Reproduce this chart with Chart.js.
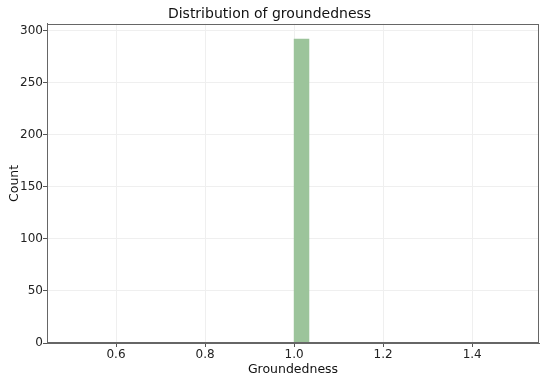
<!DOCTYPE html>
<html>
<head>
<meta charset="utf-8">
<script src="https://cdn.jsdelivr.net/npm/chart.js@4"></script>
<style>
  html, body { margin: 0; padding: 0; background: #fff; }
  #wrap { width: 550px; height: 378px; }
</style>
</head>
<body>
<div id="wrap"><canvas id="histChart"></canvas></div>
<script>
// histogram: 30 bins between 0.5 and 1.5, every score landed at 1.0
var binStart = 0.5;
var binEnd = 1.5;
var binCount = 30;
var counts = [0, 0, 0, 0, 0, 0, 0, 0, 0, 0,
              0, 0, 0, 0, 0, 292, 0, 0, 0, 0,
              0, 0, 0, 0, 0, 0, 0, 0, 0, 0];
var xTicks = [0.6, 0.8, 1.0, 1.2, 1.4];
var yTicks = [0, 50, 100, 150, 200, 250, 300];

var binWidth = (binEnd - binStart) / binCount;
var points = [];
for (let i = 0; i < counts.length; i++) {
    points.push({ x: binStart + (i + 0.5) * binWidth, y: counts[i] });
}

var frame = {
    id: 'frame',
    afterDraw(chart) {
        var a = chart.chartArea;
        var ctx = chart.ctx;
        ctx.save();
        ctx.strokeStyle = '#666';
        ctx.lineWidth = 1;
        ctx.strokeRect(Math.round(a.left) + 0.5, Math.round(a.top) + 0.5,
                       Math.round(a.right - a.left) - 1, Math.round(a.bottom - a.top) - 1);
        ctx.restore();
    }
};

var font = "'DejaVu Sans', sans-serif";
var ctx = document.getElementById('histChart').getContext('2d');

new Chart(ctx, {
    type: 'bar',
    data: {
        datasets: [{
            data: points,
            backgroundColor: '#9cc49b',
            borderWidth: 0,
            barPercentage: 1,
            categoryPercentage: 1
        }]
    },
    options: {
        responsive: true,
        maintainAspectRatio: false,
        animation: false,
        layout: { padding: { left: 0, right: 11, top: 0, bottom: 0 } },
        plugins: {
            legend: { display: false },
            tooltip: { enabled: false },
            title: {
                display: true,
                text: 'Distribution of groundedness',
                color: '#111',
                font: { family: font, size: 14, weight: 'normal' },
                padding: { top: 6, bottom: 1 }
            }
        },
        scales: {
            x: {
                type: 'linear',
                min: 0.445,
                max: 1.55,
                offset: false,
                afterFit(scale) { scale.height = 35; },
                afterBuildTicks(scale) { scale.ticks = xTicks.map(v => ({ value: v })); },
                ticks: {
                    color: '#222',
                    font: { family: font, size: 12 },
                    padding: 1,
                    callback: v => v.toFixed(1)
                },
                grid: { offset: false, color: '#efefef', tickColor: '#555', tickLength: 4 },
                border: { display: true, color: '#666' },
                title: {
                    display: true,
                    text: 'Groundedness',
                    color: '#111',
                    font: { family: font, size: 12.5 },
                    padding: { top: 0, bottom: 1 }
                }
            },
            y: {
                min: 0,
                max: 306.6,
                afterFit(scale) { scale.width = 47; },
                afterBuildTicks(scale) { scale.ticks = yTicks.map(v => ({ value: v })); },
                ticks: {
                    color: '#222',
                    font: { family: font, size: 12 },
                    padding: 0
                },
                grid: { color: '#efefef', tickColor: '#555', tickLength: 4 },
                border: { display: true, color: '#666' },
                title: {
                    display: true,
                    text: 'Count',
                    color: '#111',
                    font: { family: font, size: 12.5 },
                    padding: { top: 7, bottom: 0 }
                }
            }
        }
    },
    plugins: [frame]
});
</script>
</body>
</html>
